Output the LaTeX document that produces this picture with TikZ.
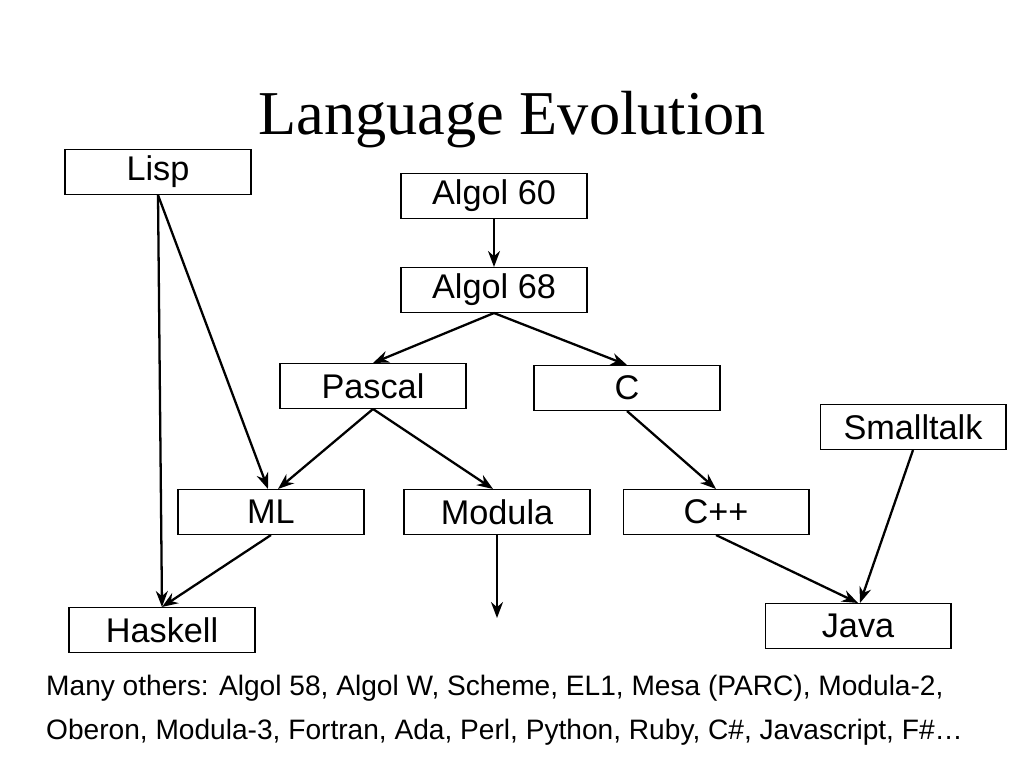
\documentclass[tikz,border=0pt]{standalone}
\usepackage{fontspec}
\setmainfont{Liberation Sans}
\newfontfamily\titlefont{Liberation Serif}
\usetikzlibrary{arrows.meta}

\begin{document}
\begin{tikzpicture}[x=0.02cm,y=-0.02cm,
  lang/.style={draw,line width=.6pt,minimum width=3.72cm,minimum height=0.9cm,inner sep=0pt,font=\fontsize{19.5}{22}\selectfont},
  arrow/.style={-{Stealth[length=3.2mm,width=2.4mm]},line width=1.3pt}]
\useasboundingbox (0,0) rectangle (1024,768);
\node (title) at (512,120) {\titlefont\fontsize{35.5}{40}\selectfont Language Evolution};

\node[lang] (lisp) at (158,172) {Lisp};
\node[lang] (algolA) at (494,196) {Algol 60};
\node[lang] (algolB) at (494,290) {Algol 68};
\node[lang] (pascal) at (373,386) {Pascal};
\node[lang] (c) at (627,388) {C};
\node[lang] (smalltalk) at (913,427) {Smalltalk};
\node[lang] (ml) at (271,512) {ML};
\node[lang] (modula) at (497,512) {Modula};
\node[lang] (cpp) at (716,512) {C++};
\node[lang] (haskell) at (162,630) {Haskell};
\node[lang] (java) at (858,626) {Java};
\coordinate (more) at (497,618);

\draw[arrow] (lisp.south) -- (haskell.north);
\draw[arrow] (lisp.south) -- ([xshift=-0.06cm]ml.north);
\draw[arrow] (algolA) -- (algolB);
\draw[arrow] (algolB.south) -- (pascal.north);
\draw[arrow] (algolB.south) -- (c.north);
\draw[arrow] (pascal.south) -- ([xshift=0.14cm]ml.north);
\draw[arrow] (pascal.south) -- ([xshift=-0.08cm]modula.north);
\draw[arrow] (c.south) -- (cpp.north);
\draw[arrow] (smalltalk.south) -- ([xshift=0.04cm]java.north);
\draw[arrow] (ml.south) -- (haskell.north);
\draw[arrow] (modula.south) -- (more);
\draw[arrow] (cpp.south) -- (java.north);

\node[anchor=west,align=left,font=\fontsize{16}{25}\selectfont] (others) at (40,710)
  {Many others: Algol 58, Algol W, Scheme, EL1, Mesa (PARC), Modula-2,\\
   Oberon, Modula-3, Fortran, Ada, Perl, Python, Ruby, C\#, Javascript, F\#\ldots};
\end{tikzpicture}
\end{document}
